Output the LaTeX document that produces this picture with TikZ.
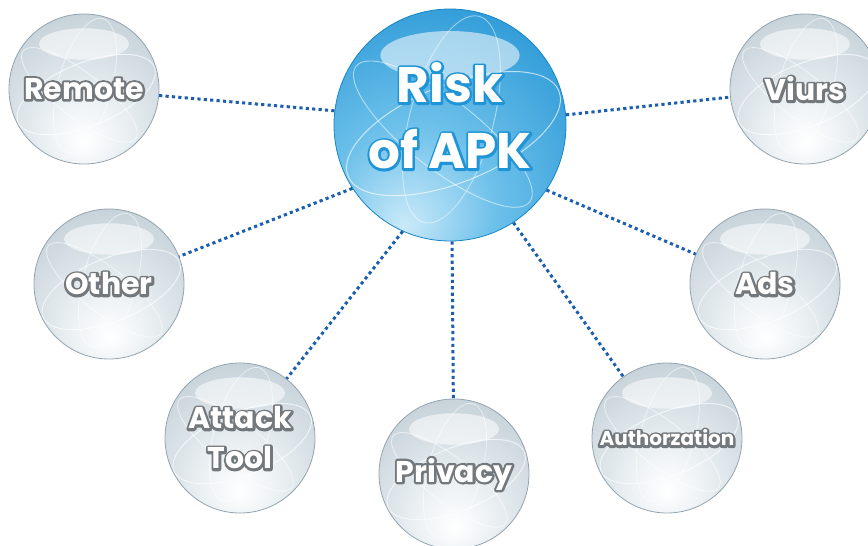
\documentclass[tikz,border=0pt]{standalone}
\usepackage{fontspec}
\setmainfont{Poppins}

\definecolor{dotblue}{HTML}{1C5FAF}
\definecolor{silverA}{HTML}{F0F4F6}
\definecolor{silverB}{HTML}{D2DCE2}
\definecolor{silverC}{HTML}{BAC8D0}
\definecolor{silverD}{HTML}{A4B4BE}
\definecolor{rimgray}{HTML}{93A4AF}
\definecolor{blueA}{HTML}{CBEAF9}
\definecolor{blueB}{HTML}{6CC0EA}
\definecolor{blueC}{HTML}{2A98D6}
\definecolor{blueD}{HTML}{1786C8}

\pgfdeclareradialshading{silverball}{\pgfpoint{0bp}{-18bp}}{%
  color(0bp)=(white); color(10bp)=(silverA); color(28bp)=(silverB);
  color(45bp)=(silverC); color(60bp)=(silverD); color(90bp)=(silverD)}
\pgfdeclareradialshading{blueball}{\pgfpoint{-10bp}{-22bp}}{%
  color(0bp)=(blueA); color(18bp)=(blueB); color(42bp)=(blueC);
  color(62bp)=(blueD); color(90bp)=(blueD)}

% stroked text for the label outline
\newcommand{\strokeon}[1]{\special{pdf:literal direct 1 j #1 RG 4.6 w 1 Tr}}
\newcommand{\strokeoff}{\special{pdf:literal direct 0 Tr}}

% ball: name, position, ball style, label style, outline rgb, radius, text
\newcommand{\ballnode}[7]{%
  \node[#3] (#1) at (#2) {};
  \begin{scope}[shift={(#1.center)}, scale=#6]
    \clip (0,0) circle (.99);
    \fill[white, opacity=.55] (0,-.6) ellipse (.6 and .21);
    \draw[white, opacity=.65, line width=1pt, rotate=22] (0,.08) ellipse (.98 and .42);
    \draw[white, opacity=.55, line width=.9pt, rotate=-38] (0,.1) ellipse (.95 and .3);
    \draw[white, opacity=.5, line width=.9pt, rotate=75] (.05,0) ellipse (.92 and .36);
  \end{scope}
  \node[#4, text=white] at (#1.center) {\strokeon{#5}#7\strokeoff};
  \node[#4, text=white] (#1-txt) at (#1.center) {#7};
}

\tikzset{
  silver/.style={circle, minimum size=150pt, inner sep=0pt, draw=rimgray,
    line width=.8pt, shading=silverball},
  hubball/.style={circle, minimum size=232pt, inner sep=0pt, draw=blueD,
    line width=.8pt, shading=blueball},
  lbl/.style={align=center, inner sep=0pt, font=\bfseries\fontsize{30}{40}\selectfont},
  lblsmall/.style={lbl, font=\bfseries\fontsize{20}{24}\selectfont},
  hublbl/.style={lbl, yshift=9pt, font=\bfseries\fontsize{50}{66}\selectfont},
  link/.style={dotblue, line width=3pt, dash pattern=on 3.2pt off 3.2pt}
}

\begin{document}
\begin{tikzpicture}[x=1pt, y=-1pt]
\useasboundingbox (0,0) rectangle (868,546);

\ballnode{hub}{450,125}{hubball}{hublbl}{0.12 0.58 0.84}{116}{Risk\\of APK}
\ballnode{remote}{84,89}{silver}{lbl}{0.45 0.47 0.49}{75}{Remote}
\ballnode{viurs}{805,89}{silver}{lbl}{0.45 0.47 0.49}{75}{Viurs}
\ballnode{other}{109,284}{silver}{lbl}{0.45 0.47 0.49}{75}{Other}
\ballnode{ads}{765,284}{silver}{lbl}{0.45 0.47 0.49}{75}{Ads}
\ballnode{attack}{240,438}{silver}{lbl}{0.45 0.47 0.49}{75}{Attack\\Tool}
\ballnode{privacy}{454,474}{silver}{lbl}{0.45 0.47 0.49}{75}{Privacy}
\ballnode{auth}{667,438}{silver}{lblsmall}{0.45 0.47 0.49}{75}{Authorzation}

\draw[link] (hub.173.6) -- (remote);
\draw[link] (hub.5.9) -- (viurs);
\draw[link] (hub.213.8) -- (other);
\draw[link] (hub.326.8) -- (ads);
\draw[link] (hub.246.8) -- (attack);
\draw[link] (hub.271.5) -- (privacy);
\draw[link] (hub.303) -- (auth);
\end{tikzpicture}
\end{document}
